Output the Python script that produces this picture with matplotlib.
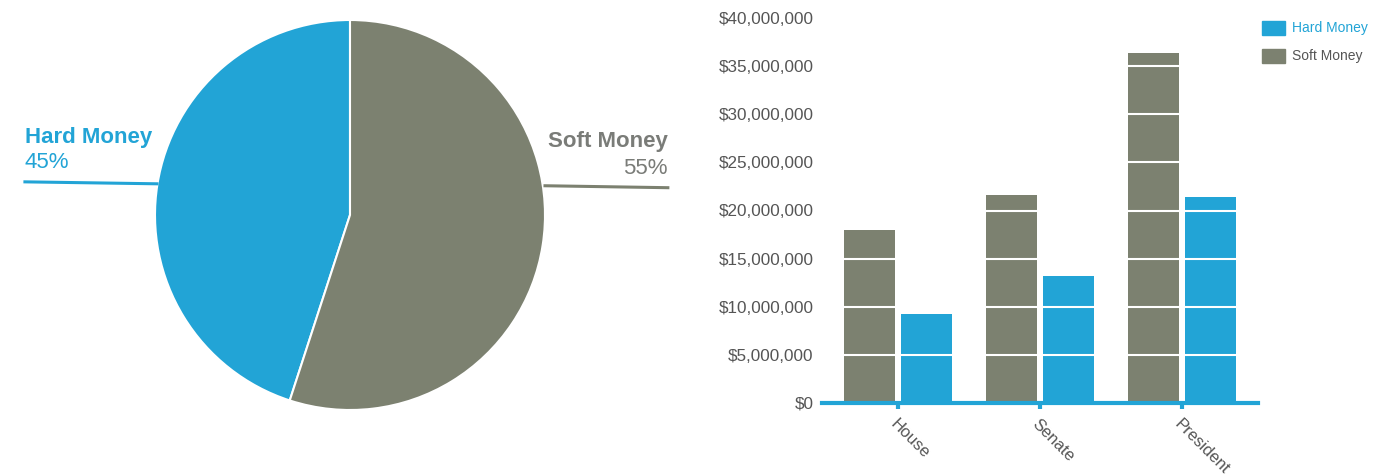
import matplotlib.pyplot as plt
from matplotlib.patches import Patch
from matplotlib.ticker import FuncFormatter

plt.rcParams['font.family'] = ['Liberation Sans', 'DejaVu Sans']

# 资金占比
share_labels = ["Hard Money", "Soft Money"]
share_values = [45, 55]

# 各类选举的资金
races = ["House", "Senate", "President"]
soft_money = [18000000, 21600000, 36400000]
hard_money = [9200000, 13200000, 21400000]

BLUE = "#22a4d6"
GRAY = "#7c8170"
TEXT_GRAY = "#555555"

fig = plt.figure(figsize=(13.94, 4.75), dpi=100)

# 饼图
ax1 = fig.add_axes([155 / 1394, 65 / 475, 390 / 1394, 390 / 475])
ax1.pie(share_values, colors=[BLUE, GRAY], startangle=90, counterclock=True,
        wedgeprops=dict(edgecolor="white", linewidth=1.5))
ax1.set_aspect("equal")
ax1.set_xlim(-1.0, 1.0)
ax1.set_ylim(-1.0, 1.0)

ax1.plot([-1.667, -0.99], [0.17, 0.16], color=BLUE, lw=2.2, clip_on=False)
ax1.text(-1.667, 0.40, share_labels[0], color=BLUE, fontsize=16,
         fontweight="bold", ha="left", va="center")
ax1.text(-1.667, 0.27, f"{share_values[0]}%", color=BLUE, fontsize=16,
         ha="left", va="center")
ax1.plot([1.0, 1.63], [0.15, 0.14], color=GRAY, lw=2.2, clip_on=False)
ax1.text(1.63, 0.375, share_labels[1], color="#7a7c78", fontsize=16,
         fontweight="bold", ha="right", va="center")
ax1.text(1.63, 0.24, f"{share_values[1]}%", color="#7a7c78", fontsize=16,
         ha="right", va="center")

# 柱状图
ax2 = fig.add_axes([822 / 1394, 72 / 475, 436 / 1394, 385 / 475])
x = list(range(len(races)))
width = 0.36
ax2.bar([i - 0.2 for i in x], soft_money, width, color=GRAY, zorder=2)
ax2.bar([i + 0.2 for i in x], hard_money, width, color=BLUE, zorder=2)

yticks = list(range(0, 40000001, 5000000))
for y in yticks[1:]:
    ax2.axhline(y, color="white", lw=1.5, zorder=3)

ax2.set_xlim(-0.535, 2.535)
ax2.set_ylim(0, 40000000)
ax2.set_yticks(yticks)
ax2.yaxis.set_major_formatter(FuncFormatter(lambda v, p: f"${v:,.0f}"))
ax2.tick_params(axis="y", length=0, pad=6, labelsize=12.3, labelcolor=TEXT_GRAY)
ax2.set_xticks(x)
ax2.set_xticklabels(races)
ax2.tick_params(axis="x", length=4, width=3, color=BLUE, labelsize=12,
                labelcolor=TEXT_GRAY, pad=6)
for lbl in ax2.get_xticklabels():
    lbl.set_rotation(-45)
    lbl.set_ha("left")
    lbl.set_va("top")
    lbl.set_rotation_mode("anchor")

for side in ["top", "right", "left"]:
    ax2.spines[side].set_visible(False)
ax2.spines["bottom"].set_color(BLUE)
ax2.spines["bottom"].set_linewidth(3)
ax2.spines["bottom"].set_zorder(4)

handles = [Patch(color=BLUE), Patch(color=GRAY)]
leg = fig.legend(handles, share_labels, loc="upper left",
                 bbox_to_anchor=(1249 / 1394, 1 - 8 / 475), frameon=False,
                 fontsize=10, handlelength=1.7, handleheight=1.2,
                 handletextpad=0.5, labelspacing=0.95)
leg.get_texts()[0].set_color(BLUE)
leg.get_texts()[1].set_color(TEXT_GRAY)

fig.savefig("out.png", dpi=100)
